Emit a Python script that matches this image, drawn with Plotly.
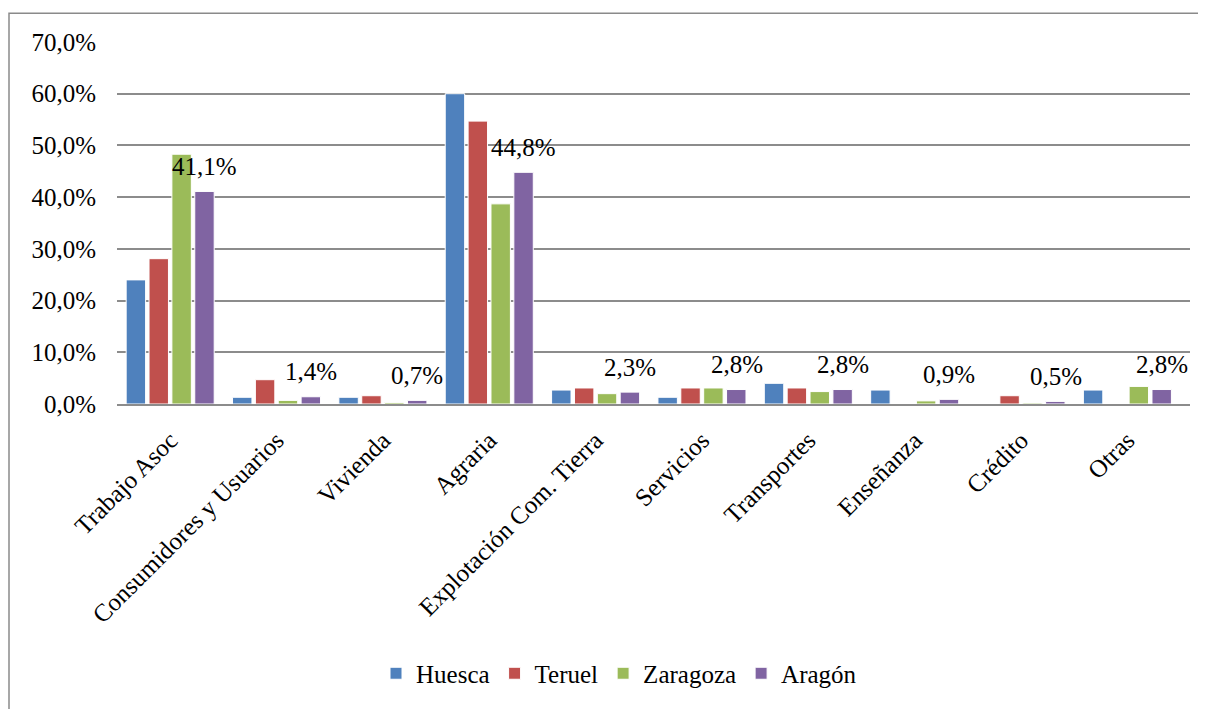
import plotly.graph_objects as go

# tipos de cooperativa y % por provincia
categorias = ["Trabajo Asoc", "Consumidores y Usuarios", "Vivienda", "Agraria",
              "Explotación Com. Tierra", "Servicios", "Transportes", "Enseñanza",
              "Crédito", "Otras"]
huesca = [24.0, 1.3, 1.3, 60.0, 2.7, 1.3, 4.0, 2.7, 0.0, 2.7]
teruel = [28.1, 4.7, 1.6, 54.7, 3.1, 3.1, 3.1, 0.0, 1.6, 0.0]
zaragoza = [48.3, 0.7, 0.3, 38.7, 2.0, 3.1, 2.4, 0.6, 0.2, 3.4]
aragon = [41.1, 1.4, 0.7, 44.8, 2.3, 2.8, 2.8, 0.9, 0.5, 2.8]
y_ticks = [0, 10, 20, 30, 40, 50, 60, 70]


def pct(v):
    return f"{v:.1f}".replace(".", ",") + "%"


FONT = "Liberation Serif"
# la página añade 8px de margen al body, así que la figura es algo menor
W, H = 1198, 701
L, R, T, B = 109, 16, 34, 303
BARGAP = 0.14

series = [("Huesca", huesca, "#4F81BD"), ("Teruel", teruel, "#C0504D"),
          ("Zaragoza", zaragoza, "#9BBB59"), ("Aragón", aragon, "#8064A2")]

fig = go.Figure()
for name, vals, col in series:
    fig.add_trace(go.Bar(x=categorias, y=vals, name=name, marker_color=col,
                         marker_line=dict(color="white", width=1)))

# etiquetas de Aragón, desplazadas sobre su barra
cat_w = (W - L - R) / len(categorias)
slot = cat_w * (1 - BARGAP) / 4
for c, v in zip(categorias, aragon):
    fig.add_annotation(x=c, y=v, text=pct(v), showarrow=False,
                       xshift=1.5 * slot, yshift=25, yanchor="middle",
                       font=dict(family=FONT, size=25, color="black"))

# marco exterior
px = lambda p: (p - L) / (W - L - R)
py = lambda p: (H - B - p) / (H - T - B)
fig.add_shape(type="rect", xref="paper", yref="paper", x0=px(1), x1=px(1220),
              y0=py(720), y1=py(5), line=dict(color="#8a8a8a", width=1.5))

fig.update_layout(
    width=W, height=H, margin=dict(l=L, r=R, t=T, b=B),
    barmode="group", bargap=BARGAP, bargroupgap=0.15,
    plot_bgcolor="white", paper_bgcolor="white",
    font=dict(family=FONT, size=25, color="black"),
    legend=dict(orientation="h", x=px(611), y=py(669), xanchor="center", yanchor="middle",
                font=dict(family=FONT, size=25), itemwidth=30),
    showlegend=True,
)
fig.update_yaxes(range=[0, 70], tickvals=y_ticks, ticktext=[pct(v) for v in y_ticks],
                 showgrid=True, gridcolor="#8c8c8c", gridwidth=1.5, zeroline=False,
                 showline=False, ticklabelstandoff=20, tickfont=dict(family=FONT, size=25))
fig.update_xaxes(tickangle=-45, showline=True, linecolor="#8c8c8c", linewidth=1.5,
                 ticklabelstandoff=10, tickfont=dict(family=FONT, size=25))

fig.write_html("out.html", config={"displayModeBar": False})
